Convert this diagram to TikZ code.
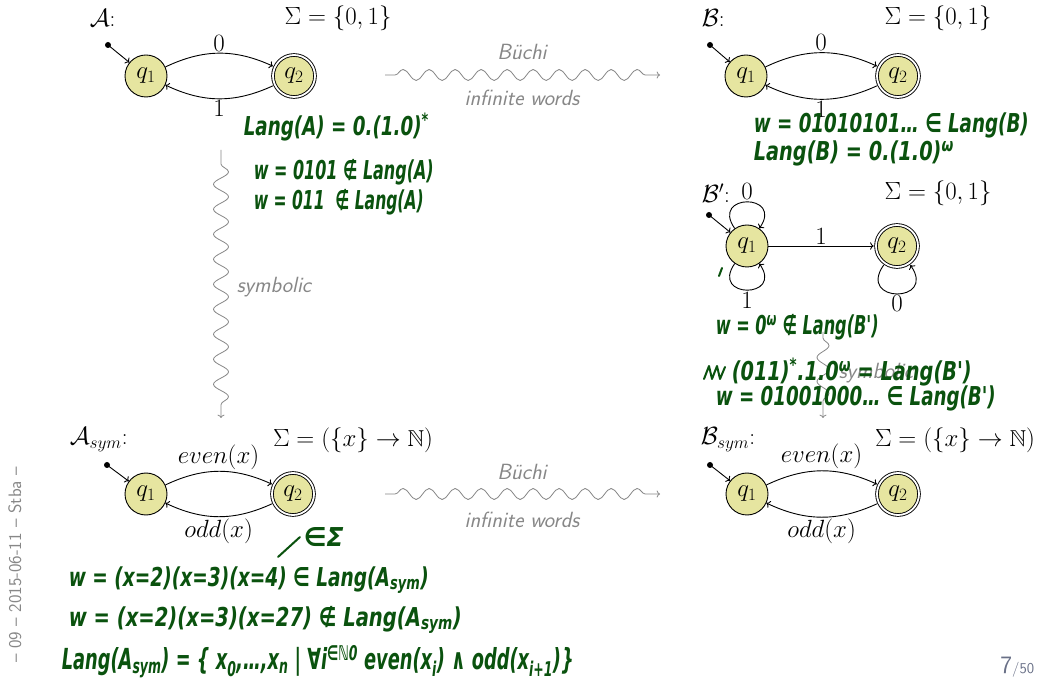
\documentclass[tikz,border=0pt]{standalone}
\usepackage{amssymb}
\usepackage{graphicx}
\usepackage{fontspec}
\usetikzlibrary{decorations.pathmorphing,arrows.meta}
\newfontfamily\hand[FakeStretch=0.8]{DejaVu Sans}
\definecolor{stfill}{RGB}{230,229,160}
\definecolor{hwgreen}{RGB}{10,82,14}
\definecolor{wgray}{RGB}{135,135,135}
\definecolor{pgcol}{RGB}{105,112,135}
\newcommand\hwfit[2]{\resizebox{#1}{\height}{#2}}
\begin{document}
\begin{tikzpicture}[x=1pt,y=1pt,line width=0.9pt,
  every node/.style={font=\fontsize{23}{27}\selectfont},
  st/.style={circle,draw,fill=stfill,minimum size=42pt,inner sep=0pt},
  acc/.style={circle,draw,fill=stfill,double,double distance=1.8pt,minimum size=42pt,inner sep=0pt,outer sep=2.3pt},
  init/.style={->},
  elab/.style={inner sep=1.5pt},
  loopup/.style={out=125,in=55,looseness=4.5},
  loopdown/.style={out=-125,in=-55,looseness=4.5},
  wave/.style={draw=wgray,line width=0.8pt,->,decorate},
  wlab/.style={text=wgray,font=\sffamily\itshape\fontsize{22}{26}\selectfont},
  hw/.style={anchor=west,text=hwgreen,font=\hand\bfseries\itshape\fontsize{26}{28}\selectfont},
  hwline/.style={draw=hwgreen,line width=2pt,line cap=round,line join=round}]
\useasboundingbox (0,0) rectangle (1039,694);
\fill[white] (0,0) rectangle (1039,694);

% ---------- A ----------
\node[anchor=west] (alab) at (86,676) {$\mathcal{A}$:};
\node (asig) at (338,676) {$\Sigma = \{0,1\}$};
\node[st] (a1) at (146,618) {$q_1$};
\node[acc] (a2) at (294,618) {$q_2$};
\coordinate (ai) at (108,649);
\fill (ai) circle (3);
\draw[init] (ai) -- (a1);
\draw[->] (a1) to[bend left=25] node[above,elab] {$0$} (a2);
\draw[->] (a2) to[bend left=25] node[below,elab] {$1$} (a1);

% ---------- B ----------
\node[anchor=west] (blab) at (698,676) {$\mathcal{B}$:};
\node (bsig) at (938,676) {$\Sigma = \{0,1\}$};
\node[st] (b1) at (746,618) {$q_1$};
\node[acc] (b2) at (898,618) {$q_2$};
\coordinate (bi) at (710,649);
\fill (bi) circle (3);
\draw[init] (bi) -- (b1);
\draw[->] (b1) to[bend left=25] node[above,elab] {$0$} (b2);
\draw[->] (b2) to[bend left=25] node[below,elab] {$1$} (b1);

% ---------- B' ----------
\node[anchor=west] (clab) at (698,501) {$\mathcal{B}'$:};
\node (csig) at (938,501) {$\Sigma = \{0,1\}$};
\node[st] (c1) at (747,448) {$q_1$};
\node[acc] (c2) at (897,448) {$q_2$};
\coordinate (ci) at (709,479);
\fill (ci) circle (3);
\draw[init] (ci) -- (c1);
\draw[->] (c1) -- node[above,elab] {$1$} (c2);
\draw[->] (c1) to[loopup] node[above,elab] {$0$} (c1);
\draw[->] (c1) to[loopdown] node[below,elab] {$1$} (c1);
\draw[->] (c2) to[loopdown] node[below,elab] {$0$} (c2);

% ---------- A_sym ----------
\node[anchor=west] (dlab) at (66,254) {$\mathcal{A}_{sym}$:};
\node (dsig) at (353,254) {$\Sigma = (\{x\}\rightarrow\mathbb{N})$};
\node[st] (d1) at (146,200) {$q_1$};
\node[acc] (d2) at (293,200) {$q_2$};
\coordinate (di) at (107,229);
\fill (di) circle (3);
\draw[init] (di) -- (d1);
\draw[->] (d1) to[bend left=25] node[above,elab] {$even(x)$} (d2);
\draw[->] (d2) to[bend left=25] node[below,elab] {$odd(x)$} (d1);

% ---------- B_sym ----------
\node[anchor=west] (elab) at (697,254) {$\mathcal{B}_{sym}$:};
\node (esig) at (955,254) {$\Sigma = (\{x\}\rightarrow\mathbb{N})$};
\node[st] (e1) at (747,200) {$q_1$};
\node[acc] (e2) at (898,200) {$q_2$};
\coordinate (ei) at (710,229);
\fill (ei) circle (3);
\draw[init] (ei) -- (e1);
\draw[->] (e1) to[bend left=25] node[above,elab] {$even(x)$} (e2);
\draw[->] (e2) to[bend left=25] node[below,elab] {$odd(x)$} (e1);

% ---------- wavy arrows ----------
\coordinate (w1s) at (385,619);
\coordinate (w1e) at (660,619);
\draw[wave,decoration={snake,amplitude=5.5pt,segment length=26pt,pre length=10pt,post length=6pt}] (w1s) -- (w1e);
\node[wlab] (w1t) at (522,642) {Büchi};
\node[wlab] (w1b) at (522,596) {infinite words};

\coordinate (w2s) at (385,200);
\coordinate (w2e) at (660,200);
\draw[wave,decoration={snake,amplitude=5.5pt,segment length=26pt,pre length=10pt,post length=6pt}] (w2s) -- (w2e);
\node[wlab] (w2t) at (522,222) {Büchi};
\node[wlab] (w2b) at (522,174) {infinite words};

\coordinate (v1s) at (221,544);
\coordinate (v1e) at (221,276);
\draw[wave,decoration={snake,amplitude=7.5pt,segment length=25pt,pre length=14pt,post length=8pt}] (v1s) -- (v1e);
\node[wlab,anchor=west] (v1l) at (233,407) {symbolic};

\coordinate (v2s) at (823,362);
\coordinate (v2e) at (823,276);
\draw[wave,decoration={snake,amplitude=6pt,segment length=24pt,pre length=6pt,post length=8pt}] (v2s) -- (v2e);
\node[wlab,anchor=west] (v2l) at (835,321) {symbolic};

% ---------- side text and page ----------
\node[rotate=90,text=wgray,font=\sffamily\fontsize{18}{20}\selectfont] (side) at (15,129) {-- 09 -- 2015-06-11 -- Stba --};
\node[anchor=east,text=pgcol,font=\sffamily\fontsize{25}{28}\selectfont] (page) at (1038,27) {7\fontsize{15}{18}\selectfont/50};

% ---------- handwritten annotations ----------
\node[hw] (h1) at (240,567) {\hwfit{185pt}{Lang(A) = 0.(1.0)\textsuperscript{*}}};
\node[hw] (h2) at (250,522) {\hwfit{180pt}{w = 0101 ∉ Lang(A)}};
\node[hw] (h3) at (250,492) {\hwfit{170pt}{w = 011 \ ∉ Lang(A)}};
\node[hw] (h4) at (750,569) {\hwfit{275pt}{w = 01010101… ∈ Lang(B)}};
\node[hw] (h5) at (750,541) {\hwfit{200pt}{Lang(B) = 0.(1.0)\textsuperscript{ω}}};
\node[hw] (h6) at (712,367) {\hwfit{163pt}{w = 0\textsuperscript{ω} ∉ Lang(B')}};
\draw[hwline] (704,315) -- (709,328) -- (712,315) -- (717,328) -- (720,315) -- (725,327);
\node[hw] (h7) at (728,322) {\hwfit{240pt}{(011)\textsuperscript{*}.1.0\textsuperscript{ω} = Lang(B')}};
\node[hw] (h8) at (712,296) {\hwfit{280pt}{w = 01001000… ∈ Lang(B')}};
\draw[hwline] (719,418) -- (722,426);
\node[hw] (h9) at (300,157) {\hwfit{40pt}{∈Σ}};
\draw[hwline] (278,137) -- (h9.west);
\node[hw] (h10) at (65,114) {\hwfit{360pt}{w = (x=2)(x=3)(x=4) ∈ Lang(A\textsubscript{sym})}};
\node[hw] (h11) at (65,74) {\hwfit{393pt}{w = (x=2)(x=3)(x=27) ∉ Lang(A\textsubscript{sym})}};
\node[hw,font=\hand\bfseries\itshape\fontsize{29}{31}\selectfont] (h12) at (58,32) {\hwfit{512pt}{Lang(A\textsubscript{sym}) = \{ x\textsubscript{0},…,x\textsubscript{n} | ∀i\textsuperscript{∈ℕ0} even(x\textsubscript{i}) ∧ odd(x\textsubscript{i+1})\}}};
\end{tikzpicture}
\end{document}
